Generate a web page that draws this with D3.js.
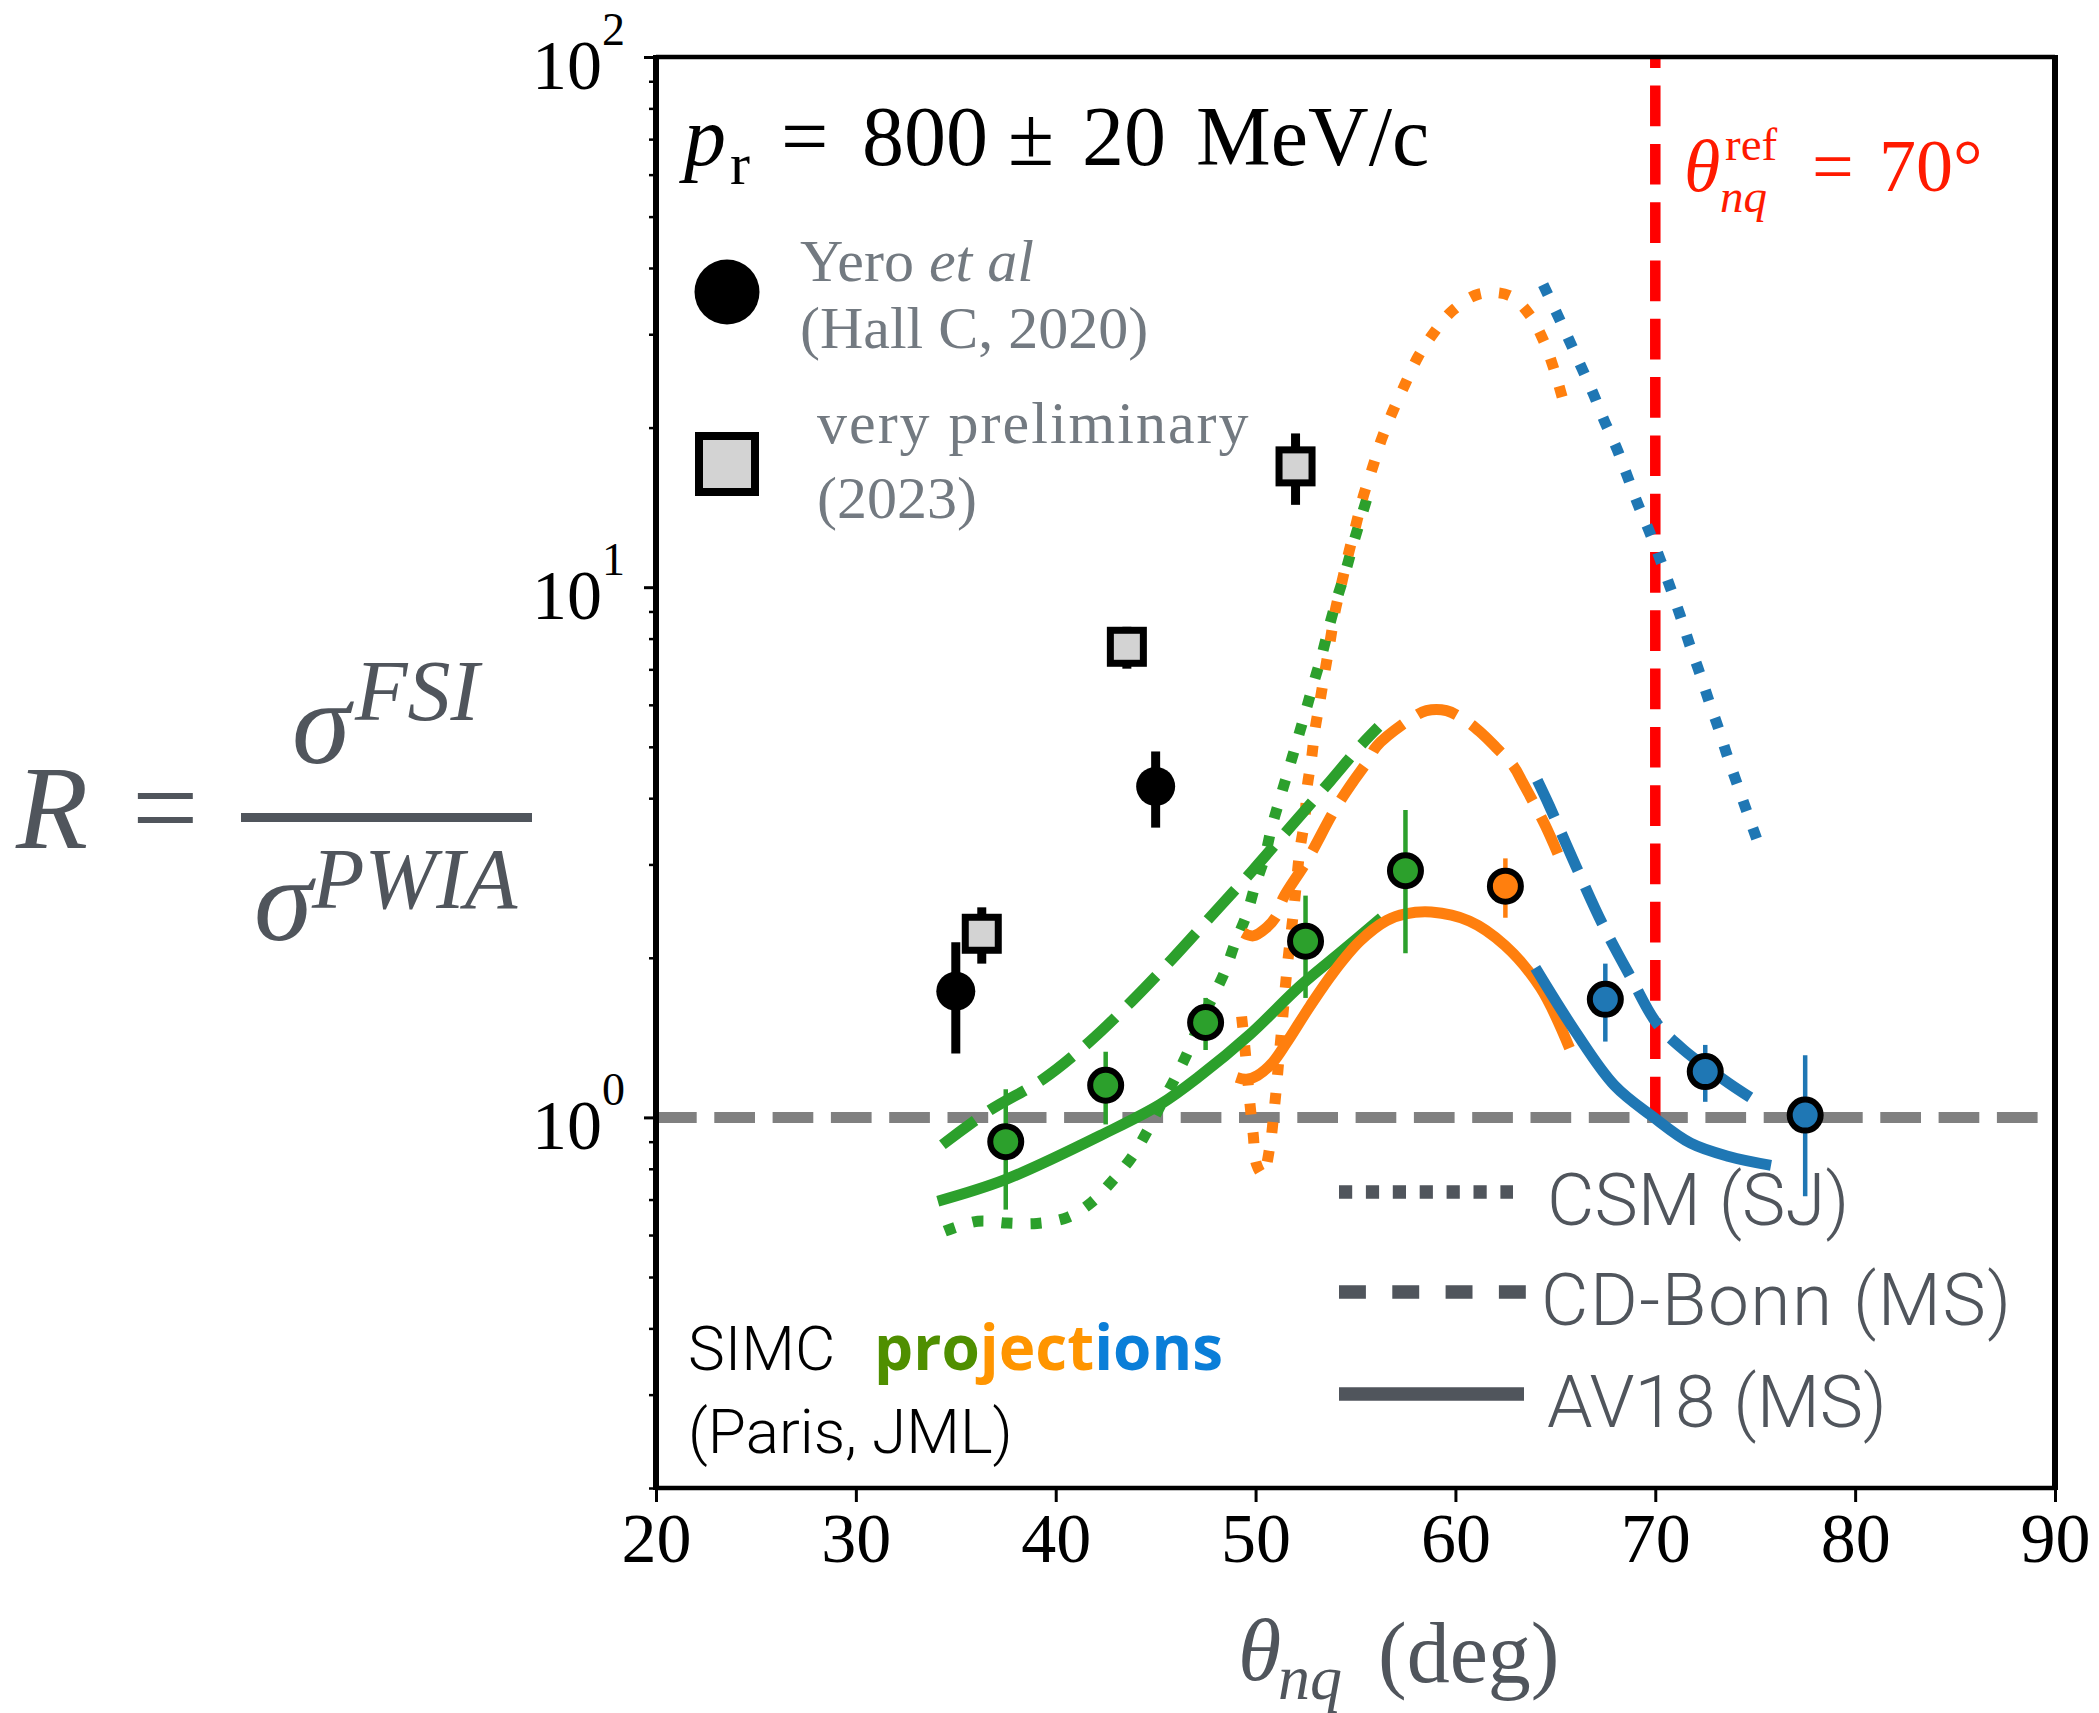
<!DOCTYPE html>
<html>
<head>
<meta charset="utf-8">
<script src="https://cdn.jsdelivr.net/npm/d3@7"></script>
<style>
body { margin: 0; background: #fff; }
svg { display: block; }
</style>
</head>
<body>
<svg id="chart" width="2099" height="1713"></svg>
<script>
// values: theta_nq (deg) vs R = sigma_FSI / sigma_PWIA

let x_domain = [20, 90]
let y_domain = [0.2, 100]
let x_ticks = [20, 30, 40, 50, 60, 70, 80, 90]
let y_major = [1, 10, 100]
let y_minor = [0.2, 0.3, 0.4, 0.5, 0.6, 0.7, 0.8, 0.9, 2, 3, 4, 5, 6, 7, 8, 9, 20, 30, 40, 50, 60, 70, 80, 90]

let theta_ref = 70

// Yero et al (Hall C, 2020)
let yero_theta = [35.0, 45.0]
let yero_r = [1.73, 4.21]
let yero_err = [0.41, 0.69]

// very preliminary (2023)
let prelim_theta = [36.3, 43.56, 52.0]
let prelim_r = [2.22, 7.72, 16.9]
let prelim_err = [0.27, 0.7, 2.6]

// SIMC projections
let proj_theta = [37.5, 42.5, 47.5, 52.5, 57.5, 62.5, 67.5, 72.5, 77.5]
let proj_r = [0.90, 1.15, 1.51, 2.15, 2.92, 2.73, 1.67, 1.22, 1.01]
let proj_err = [0.23, 0.18, 0.17, 0.47, 0.88, 0.35, 0.28, 0.15, 0.30]
let proj_set = ['green', 'green', 'green', 'green', 'green', 'orange', 'blue', 'blue', 'blue']

// model curves, [theta, R]
let green_csm = [[34.45, 0.61], [36.1, 0.637], [37.56, 0.632], [39.06, 0.631], [40.6, 0.648], [41.8, 0.692],
    [42.9, 0.764], [43.8, 0.841], [44.6, 0.945], [45.3, 1.063], [45.94, 1.179], [46.6, 1.326], [47.24, 1.517],
    [47.88, 1.693], [48.47, 1.887], [48.97, 2.13], [49.55, 2.41], [49.97, 2.73], [50.47, 3.11], [50.8, 3.52],
    [51.2, 3.97], [51.63, 4.50], [52.05, 5.09], [52.47, 5.77], [52.88, 6.55], [53.3, 7.41], [53.68, 8.43],
    [54.08, 9.54], [54.52, 10.77], [54.92, 12.2], [55.35, 13.8], [55.8, 15.7]]
let orange_csm = [[49.3, 1.55], [49.46, 1.36], [49.72, 1.06], [49.88, 0.93], [50.05, 0.815], [50.37, 0.78],
    [50.72, 0.883], [50.9, 1.006], [51.05, 1.146], [51.18, 1.305], [51.32, 1.486], [51.58, 1.915], [51.92, 2.485],
    [52.22, 3.2], [52.46, 3.64], [52.58, 4.19], [52.8, 4.75], [52.97, 5.38], [53.22, 6.09], [53.47, 6.94],
    [53.72, 7.86], [53.97, 8.97], [54.3, 10.15], [54.63, 11.49], [55.02, 13.1], [55.38, 14.8], [55.85, 16.8],
    [56.3, 19.0], [56.85, 21.4], [57.47, 24.1], [58.13, 27.2], [58.92, 30.2], [59.88, 33.3], [61.17, 35.7],
    [62.69, 35.5], [63.72, 32.6], [64.44, 29.0], [64.94, 25.7], [65.36, 22.7]]
let blue_csm = [[64.39, 37.2], [65.03, 33.1], [65.66, 29.4], [66.28, 26.1], [66.89, 23.2], [67.45, 20.6],
    [68.09, 18.2], [68.6, 16.2], [69.14, 14.3], [69.68, 12.8], [70.25, 11.26], [70.76, 9.96], [71.26, 8.81],
    [71.72, 7.79], [72.22, 6.89], [72.69, 6.09], [73.19, 5.38], [73.64, 4.76], [74.14, 4.21], [74.64, 3.72],
    [75.14, 3.30]]

let green_cdb = [[34.33, 0.888], [36.68, 1.03], [39.36, 1.18], [41.7, 1.39], [43.8, 1.656], [45.83, 1.99],
    [47.88, 2.42], [49.88, 2.93], [51.8, 3.55], [53.72, 4.3], [55.22, 5.01], [56.15, 5.45]]
let orange_cdb = [[49.38, 2.23], [49.88, 2.20], [50.55, 2.28], [51.05, 2.40], [51.38, 2.59], [52.55, 3.04],
    [53.97, 3.81], [54.88, 4.30], [55.63, 4.71], [56.05, 5.01], [57.72, 5.63], [58.55, 5.85], [59.55, 5.85],
    [60.55, 5.59], [61.22, 5.34], [62.0, 5.0], [62.9, 4.6], [63.37, 4.28], [64.5, 3.55], [65.42, 2.96]]
let blue_cdb = [[64.1, 4.32], [64.71, 3.86], [66.04, 2.97], [67.37, 2.31], [68.8, 1.83], [70.05, 1.509],
    [71.39, 1.344], [73.68, 1.16], [75.2, 1.064]]

let green_av18 = [[34.1, 0.695], [37.5, 0.764], [42.5, 0.935], [45.26, 1.06], [47.2, 1.196], [49.72, 1.434],
    [52.22, 1.768], [54.22, 2.044], [56.3, 2.38]]
let orange_av18 = [[49.05, 1.19], [49.55, 1.18], [50.1, 1.2], [50.86, 1.27], [51.55, 1.383], [52.72, 1.621],
    [53.88, 1.874], [55.22, 2.15], [56.55, 2.35], [57.5, 2.42], [58.79, 2.44], [60.69, 2.347], [62.48, 2.11],
    [64.26, 1.755], [65.71, 1.351]]
let blue_av18 = [[64.0, 1.914], [66.0, 1.452], [67.95, 1.15], [69.86, 1.004], [71.77, 0.894], [73.68, 0.844],
    [75.79, 0.812]]

let legend_labels = ['CSM (SJ)', 'CD-Bonn (MS)', 'AV18 (MS)']

let colors = {
    'green': '#2ca02c',
    'orange': '#ff7f0e',
    'blue': '#1f77b4'
}

// layout
let plot = {'left': 656, 'right': 2055, 'top': 57, 'bottom': 1488}
let lw = 11
let dotted = `${lw} ${lw * 1.65}`
let dashed = `${lw * 3.7} ${lw * 1.6}`
let serif = "'Liberation Serif', 'Times New Roman', serif"
let sans_light = "Roboto, 'Liberation Sans', Arial, sans-serif"
let label_grey = '#50555c'

let svg = d3.select('#chart')

let x = d3.scaleLinear().domain(x_domain).range([plot.left, plot.right])
let y = d3.scaleLog().domain(y_domain).range([plot.bottom, plot.top])

let line = d3.line()
    .x(d => x(d[0]))
    .y(d => y(d[1]))
    .curve(d3.curveCatmullRom.alpha(0.5))

// reference lines
svg.append('path')
    .attr('d', d3.line()([[x(x_domain[0]), y(1)], [x(x_domain[1]), y(1)]]))
    .attr('stroke', '#808080')
    .attr('stroke-width', lw)
    .attr('stroke-dasharray', dashed)
    .attr('fill', 'none')

svg.append('path')
    .attr('d', d3.line()([[x(theta_ref), y(1)], [x(theta_ref), y(y_domain[1])]]))
    .attr('stroke', '#ff0000')
    .attr('stroke-width', 10.5)
    .attr('stroke-dasharray', dashed)
    .attr('fill', 'none')

// model curves
let curves = [
    {pts: green_csm, color: 'green', dash: dotted},
    {pts: orange_csm, color: 'orange', dash: dotted},
    {pts: blue_csm, color: 'blue', dash: dotted},
    {pts: green_cdb, color: 'green', dash: dashed},
    {pts: orange_cdb, color: 'orange', dash: dashed},
    {pts: blue_cdb, color: 'blue', dash: dashed},
    {pts: green_av18, color: 'green', dash: null},
    {pts: orange_av18, color: 'orange', dash: null},
    {pts: blue_av18, color: 'blue', dash: null}
]

svg.append('g')
    .selectAll('path')
    .data(curves)
    .join('path')
    .attr('d', d => line(d.pts))
    .attr('fill', 'none')
    .attr('stroke', d => colors[d.color])
    .attr('stroke-width', lw)
    .attr('stroke-dasharray', d => d.dash)

// data points
let proj = proj_theta.map((t, i) => ({t: t, r: proj_r[i], e: proj_err[i], c: colors[proj_set[i]]}))
let yero = yero_theta.map((t, i) => ({t: t, r: yero_r[i], e: yero_err[i]}))
let prelim = prelim_theta.map((t, i) => ({t: t, r: prelim_r[i], e: prelim_err[i]}))

let pts = svg.append('g')

pts.selectAll('.err-proj')
    .data(proj)
    .join('line')
    .attr('x1', d => x(d.t)).attr('x2', d => x(d.t))
    .attr('y1', d => y(d.r - d.e)).attr('y2', d => y(d.r + d.e))
    .attr('stroke', d => d.c)
    .attr('stroke-width', 4.5)

pts.selectAll('.pt-proj')
    .data(proj)
    .join('circle')
    .attr('cx', d => x(d.t))
    .attr('cy', d => y(d.r))
    .attr('r', 15.5)
    .attr('fill', d => d.c)
    .attr('stroke', '#000')
    .attr('stroke-width', 6)

pts.selectAll('.err-black')
    .data(yero.concat(prelim))
    .join('line')
    .attr('x1', d => x(d.t)).attr('x2', d => x(d.t))
    .attr('y1', d => y(d.r - d.e)).attr('y2', d => y(d.r + d.e))
    .attr('stroke', '#000')
    .attr('stroke-width', 9)

pts.selectAll('.pt-yero')
    .data(yero)
    .join('circle')
    .attr('cx', d => x(d.t))
    .attr('cy', d => y(d.r))
    .attr('r', 19.5)
    .attr('fill', '#000')

pts.selectAll('.pt-prelim')
    .data(prelim)
    .join('rect')
    .attr('x', d => x(d.t) - 16.5)
    .attr('y', d => y(d.r) - 16.5)
    .attr('width', 33)
    .attr('height', 33)
    .attr('fill', '#d3d3d3')
    .attr('stroke', '#000')
    .attr('stroke-width', 7)

// axes
let xg = svg.append('g')
    .attr('transform', `translate(0,${plot.bottom})`)
    .call(d3.axisBottom(x).tickValues(x_ticks).tickSize(14).tickPadding(10).tickFormat(d3.format('d')))

xg.select('.domain').remove()
xg.selectAll('line').attr('stroke', '#000').attr('stroke-width', 3)
xg.selectAll('text')
    .attr('fill', '#000')
    .attr('font-family', serif)
    .attr('font-size', 70)

let yg_minor = svg.append('g')
    .attr('transform', `translate(${plot.left},0)`)
    .call(d3.axisLeft(y).tickValues(y_minor).tickSize(7).tickFormat(''))
yg_minor.select('.domain').remove()
yg_minor.selectAll('line').attr('stroke', '#000').attr('stroke-width', 2.5)

let yg = svg.append('g')
    .attr('transform', `translate(${plot.left},0)`)
    .call(d3.axisLeft(y).tickValues(y_major).tickSize(12).tickPadding(19).tickFormat(''))
yg.select('.domain').remove()
yg.selectAll('line').attr('stroke', '#000').attr('stroke-width', 3)
yg.selectAll('.tick text').each(function(d) {
    let t = d3.select(this)
        .attr('fill', '#000')
        .attr('font-family', serif)
        .attr('font-size', 70)
        .attr('dy', 31)
    t.append('tspan').text('10')
    t.append('tspan')
        .attr('font-size', 46)
        .attr('dy', -44)
        .text(Math.round(Math.log10(d)))
})

// frame
let frame = svg.append('g').attr('stroke', '#000').attr('fill', 'none')
frame.append('line').attr('x1', plot.left).attr('x2', plot.left).attr('y1', plot.top - 2).attr('y2', plot.bottom + 2).attr('stroke-width', 6)
frame.append('line').attr('x1', plot.right).attr('x2', plot.right).attr('y1', plot.top - 2).attr('y2', plot.bottom + 2).attr('stroke-width', 6)
frame.append('line').attr('x1', plot.left).attr('x2', plot.right).attr('y1', plot.top).attr('y2', plot.top).attr('stroke-width', 4.5)
frame.append('line').attr('x1', plot.left).attr('x2', plot.right).attr('y1', plot.bottom).attr('stroke-width', 4.5).attr('y2', plot.bottom)

// x label
let xl = svg.append('text').attr('y', 1680).attr('fill', label_grey).attr('font-family', serif)
xl.append('tspan').attr('x', 1238).attr('font-size', 88).attr('font-style', 'italic').text('θ')
xl.append('tspan').attr('x', 1278).attr('dy', 19).attr('font-size', 64).attr('font-style', 'italic').text('nq')
xl.append('tspan').attr('x', 1378).attr('dy', -17).attr('font-size', 86).text('(deg)')

// y label: R = sigma^FSI / sigma^PWIA
let yl = svg.append('g').attr('fill', label_grey).attr('font-family', serif)
let yl_main = yl.append('text').attr('y', 848).attr('font-size', 118)
yl_main.append('tspan').attr('x', 16).attr('font-style', 'italic').text('R')
yl_main.append('tspan').attr('x', 132).text('=')
yl.append('rect').attr('x', 241).attr('y', 813).attr('width', 291).attr('height', 9)
let yl_num = yl.append('text').attr('y', 763).attr('font-style', 'italic')
yl_num.append('tspan').attr('x', 292).attr('font-size', 118).text('σ')
yl_num.append('tspan').attr('x', 355).attr('dy', -43).attr('font-size', 86).text('FSI')
let yl_den = yl.append('text').attr('y', 940).attr('font-style', 'italic')
yl_den.append('tspan').attr('x', 254).attr('font-size', 118).text('σ')
yl_den.append('tspan').attr('x', 312).attr('dy', -32).attr('font-size', 86).text('PWIA')

// momentum label
let pl = svg.append('text').attr('y', 165).attr('font-family', serif).attr('font-size', 84).attr('fill', '#000')
pl.append('tspan').attr('x', 684).attr('font-style', 'italic').text('p')
pl.append('tspan').attr('x', 730).attr('dy', 19).attr('font-size', 60).text('r')
pl.append('tspan').attr('x', 781).attr('dy', -19).text('=')
pl.append('tspan').attr('x', 862).text('800')
pl.append('tspan').attr('x', 1008).text('±')
pl.append('tspan').attr('x', 1082).text('20')
pl.append('tspan').attr('x', 1196).text('MeV/c')

// reference angle label
let rl = svg.append('text').attr('y', 191).attr('fill', '#ff1a00').attr('font-family', serif).attr('font-size', 74)
rl.append('tspan').attr('x', 1684).attr('font-style', 'italic').text('θ')
rl.append('tspan').attr('x', 1725).attr('dy', -31).attr('font-size', 47).text('ref')
rl.append('tspan').attr('x', 1720).attr('dy', 52).attr('font-size', 47).attr('font-style', 'italic').text('nq')
rl.append('tspan').attr('x', 1812).attr('dy', -21).text('=')
rl.append('tspan').attr('x', 1879).text('70°')

// data legend (top left)
let dl = svg.append('g')
dl.append('circle').attr('cx', 727).attr('cy', 292).attr('r', 32.5).attr('fill', '#000')
dl.append('rect').attr('x', 699).attr('y', 436).attr('width', 56).attr('height', 56)
    .attr('fill', '#d3d3d3').attr('stroke', '#000').attr('stroke-width', 8)

let dt = dl.append('g').attr('fill', '#737a81').attr('font-family', serif).attr('font-size', 60)
let t1 = dt.append('text').attr('x', 800).attr('y', 281)
t1.append('tspan').text('Yero ')
t1.append('tspan').attr('font-style', 'italic').text('et al')
dt.append('text').attr('x', 800).attr('y', 348).text('(Hall C, 2020)')
dt.append('text').attr('x', 817).attr('y', 443).attr('letter-spacing', 2).text('very preliminary')
dt.append('text').attr('x', 817).attr('y', 518).text('(2023)')

// SIMC projections label
let sl = svg.append('g')
let s1 = sl.append('text').attr('x', 688).attr('y', 1370).attr('font-size', 62)
s1.append('tspan').attr('font-family', sans_light).attr('font-weight', 300).attr('fill', '#000').text('SIMC')
let s2 = sl.append('text').attr('x', 874).attr('y', 1370).attr('font-size', 62)
    .attr('font-family', "'Open Sans', Roboto, sans-serif").attr('font-weight', 700)
s2.append('tspan').attr('fill', '#4f8f00').text('pro')
s2.append('tspan').attr('fill', '#ff9500').text('ject')
s2.append('tspan').attr('fill', '#0a7ed8').text('ions')
sl.append('text').attr('x', 688).attr('y', 1453).attr('font-size', 62)
    .attr('font-family', sans_light).attr('font-weight', 300).attr('fill', '#000').text('(Paris, JML)')

// model legend (bottom right)
let ml = svg.append('g')
let key_y = [1192, 1292, 1394]
let key_dash = ['13.2 13.7', '26.9 26.4', null]
let key_end = [1513, 1526, 1524]
ml.selectAll('line')
    .data(legend_labels)
    .join('line')
    .attr('x1', 1339)
    .attr('x2', (d, i) => key_end[i])
    .attr('y1', (d, i) => key_y[i])
    .attr('y2', (d, i) => key_y[i])
    .attr('stroke', label_grey)
    .attr('stroke-width', 13.3)
    .attr('stroke-dasharray', (d, i) => key_dash[i])
ml.selectAll('text')
    .data(legend_labels)
    .join('text')
    .attr('x', (d, i) => i === 1 ? 1541 : 1547)
    .attr('y', (d, i) => key_y[i] + 33)
    .attr('font-family', sans_light)
    .attr('font-weight', 300)
    .attr('font-size', 73)
    .attr('letter-spacing', (d, i) => i === 1 ? 1.5 : 0)
    .attr('fill', label_grey)
    .text(d => d)
</script>
</body>
</html>
